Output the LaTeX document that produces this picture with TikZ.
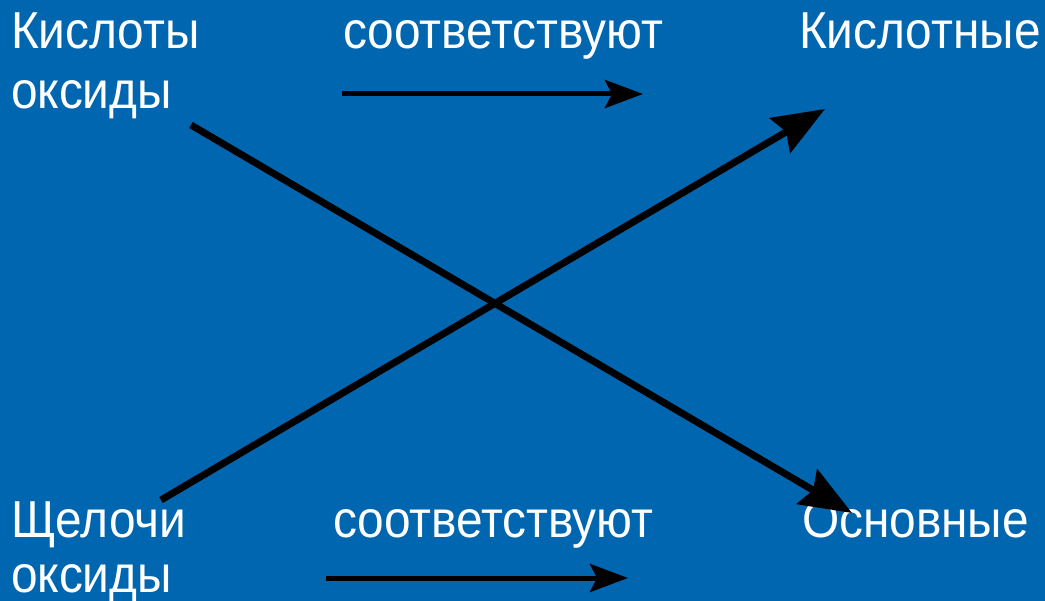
\documentclass[tikz,border=0pt]{standalone}
\usepackage{fontspec}
\setmainfont[FakeStretch=0.92]{Liberation Sans}
\usetikzlibrary{arrows.meta}
\definecolor{slideblue}{RGB}{0,102,176}
\tikzset{
  lbl/.style={text=white, anchor=base west, inner sep=0pt, outer sep=0pt,
              font=\fontsize{52}{60}\selectfont},
  flat/.style={line width=5pt, -{Stealth[length=38pt,width=28pt,inset=7pt]}},
  cross/.style={line width=7pt, -{Stealth[length=52pt,width=40pt,inset=7pt]}}
}
\begin{document}
\begin{tikzpicture}[x=1pt,y=-1pt]
  \fill[slideblue] (0,0) rectangle (1045,601);
  \useasboundingbox (0,0) rectangle (1045,601);

  % upper row
  \node[lbl] (acid1) at (11,49) {Кислоты};
  \node[lbl] (acid2) at (11,109) {оксиды};
  \node[lbl] (match1) at (343,49) {соответствуют};
  \node[lbl] (acidic) at (799,49) {Кислотные};

  % lower row
  \node[lbl] (base1) at (11,538) {Щелочи};
  \node[lbl] (base2) at (11,592) {оксиды};
  \node[lbl] (match2) at (333,537) {соответствуют};
  \node[lbl] (basic) at (802,537) {Основные};

  % arrow end points
  \coordinate (h1s) at (342,94);
  \coordinate (h1e) at (643,94);
  \coordinate (h2s) at (326,578);
  \coordinate (h2e) at (628,578);
  \coordinate (d1s) at (191,125);
  \coordinate (d1e) at (852,513);
  \coordinate (d2s) at (161,500);
  \coordinate (d2e) at (825,109);

  \draw[flat] (h1s) -- (h1e);
  \draw[flat] (h2s) -- (h2e);
  \draw[cross] (d1s) -- (d1e);
  \draw[cross] (d2s) -- (d2e);
\end{tikzpicture}
\end{document}
